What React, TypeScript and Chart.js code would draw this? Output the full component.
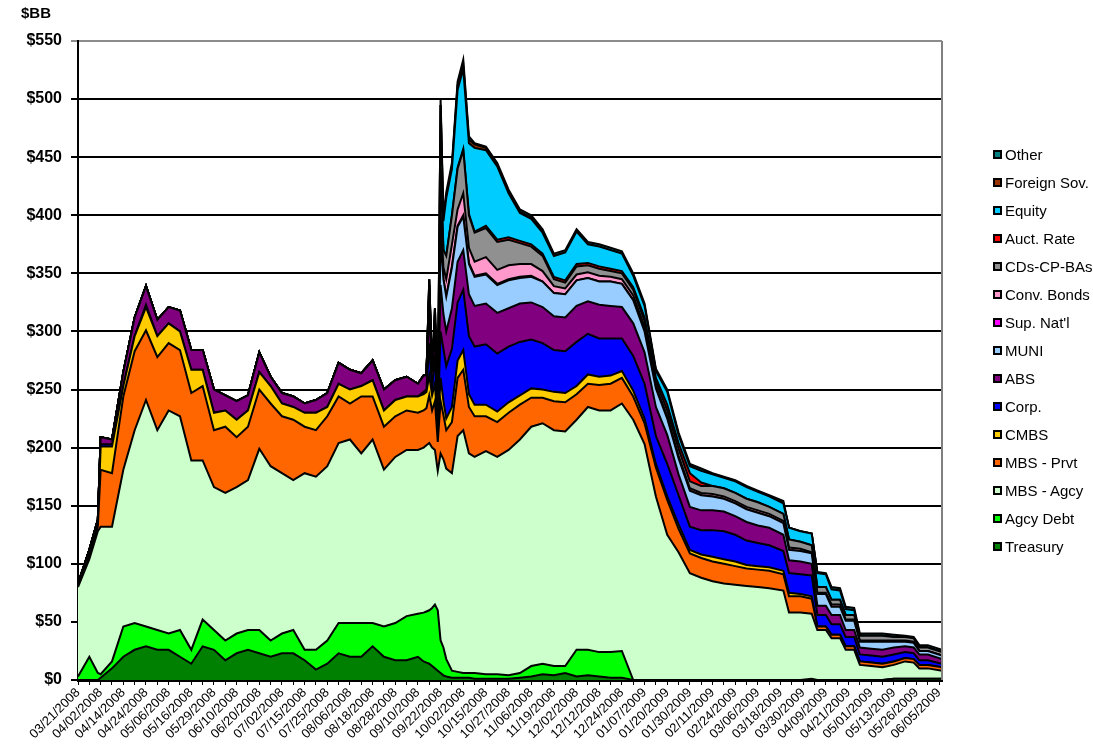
import React, { useEffect, useRef } from 'react';
import { Chart, registerables } from 'chart.js';

Chart.register(...registerables);

// Trading-day index (0 = 03/21/2008) of each sample
const dayIndex = [
  0, 4, 7, 8, 12, 16, 20, 24, 28, 32, 36, 40, 44, 48, 52, 56, 60, 64, 68, 72, 76, 80, 84, 88, 92, 96, 100, 104, 108, 112, 116, 120,
  122, 123, 124, 125, 126, 127, 128, 129, 130, 132, 134, 136, 138, 140,
  144, 148, 152, 156, 160, 164, 168, 172, 176, 180, 184, 188, 192, 196, 200, 204, 208, 212, 216, 220, 224, 228, 232, 236, 240, 244,
  249, 251, 255, 259, 261, 264, 266, 269, 271, 274, 276, 280, 284, 288, 292, 295, 297, 300, 305,
];

const dateLabels = [
  '03/21/2008', '04/02/2008', '04/14/2008', '04/24/2008', '05/06/2008', '05/16/2008', '05/29/2008', '06/10/2008',
  '06/20/2008', '07/02/2008', '07/15/2008', '07/25/2008', '08/06/2008', '08/18/2008', '08/28/2008', '09/10/2008',
  '09/22/2008', '10/02/2008', '10/15/2008', '10/27/2008', '11/06/2008', '11/19/2008', '12/02/2008', '12/12/2008',
  '12/24/2008', '01/07/2009', '01/20/2009', '01/30/2009', '02/11/2009', '02/24/2009', '03/06/2009', '03/18/2009',
  '03/30/2009', '04/09/2009', '04/21/2009', '05/01/2009', '05/13/2009', '05/26/2009', '06/05/2009',
];

const yTicks = [0, 50, 100, 150, 200, 250, 300, 350, 400, 450, 500, 550];

// $BB values per sample (bottom of stack first)
const treasury = [
  0, 0, 0, 2, 10, 20, 26, 29, 26, 26, 20, 14, 29, 26, 17, 23, 26, 23, 20, 23, 23, 17, 9, 14, 23, 20, 20, 29, 20, 17, 17, 20,
  16, 15, 14, 12, 10, 8, 6, 4, 3, 2, 2, 2, 2, 1,
  1, 1, 1, 2, 3, 5, 4, 6, 3, 4, 3, 2, 2, 0, 0, 0, 0, 0, 0, 0, 0, 0, 0, 0, 0, 0,
  0, 0, 0, 0, 0, 0, 0, 0, 0, 0, 0, 0, 0, 1, 1, 1, 1, 1, 1,
];
const agcyDebt = [
  3, 20, 6, 3, 6, 26, 23, 17, 17, 14, 23, 12, 23, 17, 17, 17, 17, 20, 14, 17, 20, 9, 17, 20, 26, 29, 29, 20, 26, 32, 38, 37,
  42, 44, 46, 50, 55, 52, 28, 24, 15, 6, 5, 4, 4, 5,
  4, 4, 3, 4, 9, 9, 8, 6, 23, 22, 21, 22, 23, 0, 0, 0, 0, 0, 0, 0, 0, 0, 0, 0, 0, 0,
  0, 0, 0, 1, 0, 0, 0, 0, 0, 0, 0, 0, 0, 0, 0, 0, 0, 0, 0,
];
const mbsAgcy = [
  77, 84, 122, 127, 116, 135, 166, 195, 172, 192, 184, 163, 137, 123, 127, 126, 129, 156, 150, 138, 129, 152, 149, 150, 155, 158, 146, 158, 135, 143, 143, 141,
  142, 143, 144, 138, 133, 120, 161, 162, 164, 170, 203, 209, 189, 186,
  192, 187, 194, 201, 206, 207, 203, 202, 198, 209, 208, 208, 213, 224, 203, 158, 125, 110, 92, 88, 85, 83, 82, 81, 80, 79,
  77, 58, 58, 56, 43, 43, 36, 36, 26, 26, 13, 12, 11, 12, 15, 14, 9, 9, 7,
];
const mbsPrvt = [
  1, 2, 4, 49, 46, 63, 68, 60, 63, 58, 57, 58, 64, 49, 57, 43, 46, 51, 54, 49, 52, 40, 40, 43, 40, 31, 49, 37, 37, 35, 34, 32,
  32, 32, 41, 32, 42, 25, 45, 38, 33, 44, 50, 52, 40, 35,
  30, 30, 32, 30, 25, 22, 25, 25, 22, 20, 22, 23, 22, 20, 18, 25, 30, 20, 17, 17, 17, 17, 16, 15, 15, 15,
  14, 14, 14, 13, 3, 3, 3, 3, 3, 3, 3, 3, 3, 3, 3, 3, 3, 3, 3,
];
const cmbs = [
  0, 2, 2, 20, 23, 9, 13, 20, 18, 17, 16, 20, 14, 15, 14, 15, 14, 15, 15, 11, 11, 12, 15, 8, 11, 12, 9, 14, 14, 14, 12, 14,
  14, 14, 17, 13, 15, 10, 20, 12, 10, 13, 15, 17, 11, 10,
  10, 9, 9, 8, 8, 7, 8, 8, 7, 8, 7, 7, 6, 5, 4, 3, 3, 4, 3, 3, 4, 4, 4, 3, 3, 3,
  3, 3, 2, 2, 0, 0, 0, 0, 0, 0, 0, 0, 0, 0, 0, 0, 0, 0, 0,
];
const corp = [
  0, 0, 0, 2, 2, 0, 0, 2, 0, 0, 0, 0, 0, 0, 0, 0, 0, 0, 0, 0, 0, 0, 0, 0, 0, 0, 0, 0, 0, 0, 0, 0,
  2, 2, 28, 5, 25, 7, 40, 45, 45, 50, 50, 52, 50, 50,
  52, 50, 48, 46, 42, 40, 36, 36, 38, 35, 33, 32, 28, 30, 30, 24, 28, 25, 20, 21, 23, 24, 23, 21, 20, 19,
  17, 17, 17, 18, 10, 10, 9, 9, 8, 8, 6, 6, 6, 6, 5, 5, 4, 4, 3,
];
const abs = [
  2, 4, 4, 6, 4, 12, 16, 16, 14, 14, 18, 17, 17, 20, 13, 16, 13, 17, 8, 9, 9, 8, 11, 12, 18, 17, 11, 17, 18, 17, 17, 11,
  14, 12, 30, 15, 20, 10, 40, 30, 30, 35, 35, 34, 36, 35,
  35, 35, 33, 33, 32, 31, 29, 29, 31, 28, 29, 28, 27, 28, 27, 25, 25, 18, 17, 17, 17, 17, 16, 16, 15, 15,
  14, 11, 11, 10, 8, 8, 8, 8, 6, 6, 6, 6, 6, 6, 5, 5, 5, 5, 4,
];
const muni = [
  0, 0, 0, 0, 0, 0, 0, 0, 0, 0, 0, 0, 0, 0, 0, 0, 0, 0, 0, 0, 0, 0, 0, 0, 0, 0, 0, 0, 0, 0, 0, 0,
  0, 0, 15, 0, 10, 0, 40, 30, 30, 35, 30, 29, 26, 25,
  25, 24, 24, 22, 22, 22, 20, 20, 22, 20, 20, 21, 20, 20, 18, 16, 14, 14, 14, 13, 12, 11, 11, 11, 11, 10,
  10, 9, 9, 9, 10, 10, 7, 7, 8, 8, 5, 6, 7, 5, 4, 4, 3, 3, 3,
];
const supNatl = [
  0, 0, 0, 0, 0, 0, 0, 0, 0, 0, 0, 0, 0, 0, 0, 0, 0, 0, 0, 0, 0, 0, 0, 0, 0, 0, 0, 0, 0, 0, 0, 0,
  0, 0, 0, 0, 0, 0, 0, 0, 0, 1, 1, 1, 1, 1,
  1, 1, 1, 1, 1, 0, 0, 0, 0, 0, 0, 0, 0, 0, 0, 0, 0, 0, 0, 0, 0, 0, 0, 0, 0, 0,
  0, 0, 0, 0, 0, 0, 0, 0, 0, 0, 0, 0, 0, 0, 0, 0, 0, 0, 0,
];
const convBonds = [
  0, 0, 0, 0, 0, 0, 0, 0, 0, 0, 0, 0, 0, 0, 0, 0, 0, 0, 0, 0, 0, 0, 0, 0, 0, 0, 0, 0, 0, 0, 0, 0,
  0, 0, 0, 0, 0, 0, 20, 10, 15, 19, 14, 19, 13, 12,
  14, 12, 12, 11, 10, 9, 6, 5, 5, 5, 5, 4, 4, 4, 4, 2, 2, 2, 2, 2, 2, 2, 2, 2, 2, 2,
  2, 2, 2, 1, 1, 1, 2, 2, 1, 1, 1, 1, 1, 1, 1, 1, 0, 0, 0,
];
const cdsCpBas = [
  0, 0, 0, 0, 0, 0, 0, 0, 0, 0, 0, 0, 0, 0, 0, 0, 0, 0, 0, 0, 0, 0, 0, 0, 0, 0, 0, 0, 0, 0, 0, 0,
  0, 0, 5, 0, 0, 0, 40, 15, 20, 25, 35, 37, 28, 25,
  25, 24, 22, 18, 15, 13, 6, 5, 7, 6, 6, 5, 5, 5, 5, 4, 5, 6, 6, 6, 7, 7, 7, 7, 7, 6,
  6, 7, 6, 6, 5, 5, 4, 4, 4, 4, 4, 4, 4, 3, 3, 3, 3, 3, 3,
];
const auctRate = [
  0, 0, 0, 0, 0, 0, 0, 0, 0, 0, 0, 0, 0, 0, 0, 0, 0, 0, 0, 0, 0, 0, 0, 0, 0, 0, 0, 0, 0, 0, 0, 0,
  0, 0, 0, 0, 0, 0, 0, 0, 0, 0, 1, 1, 1, 1,
  2, 2, 2, 2, 2, 2, 2, 2, 2, 2, 2, 2, 2, 2, 3, 3, 5, 5, 7, 3, 0, 0, 0, 0, 0, 0,
  0, 0, 0, 0, 0, 0, 0, 0, 0, 0, 0, 0, 0, 0, 0, 0, 0, 0, 0,
];
const equity = [
  0, 0, 0, 0, 0, 0, 0, 0, 0, 0, 0, 0, 0, 0, 0, 0, 0, 0, 0, 0, 0, 0, 0, 0, 0, 0, 0, 0, 0, 0, 0, 0,
  0, 0, 5, 0, 10, 3, 55, 25, 50, 40, 67, 69, 61, 72,
  65, 63, 38, 24, 22, 18, 18, 24, 28, 16, 17, 16, 15, 10, 10, 6, 11, 7, 6, 10, 10, 9, 10, 10, 9, 9,
  9, 10, 9, 10, 12, 11, 9, 8, 5, 4, 0, 0, 0, 0, 0, 0, 0, 0, 0,
];
const foreignSov = [
  0, 0, 0, 0, 0, 0, 0, 0, 0, 0, 0, 0, 0, 0, 0, 0, 0, 0, 0, 0, 0, 0, 0, 0, 0, 0, 0, 0, 0, 0, 0, 0,
  0, 0, 0, 0, 0, 0, 0, 0, 0, 2, 4, 4, 3, 3,
  2, 1, 1, 1, 1, 1, 0, 0, 0, 0, 0, 0, 0, 0, 0, 0, 0, 0, 0, 0, 0, 0, 0, 0, 0, 0,
  0, 0, 0, 0, 0, 0, 0, 0, 0, 0, 0, 0, 0, 0, 0, 0, 0, 0, 0,
];
const other = [
  0, 0, 0, 0, 0, 0, 0, 0, 0, 0, 0, 0, 0, 0, 0, 0, 0, 0, 0, 0, 0, 0, 0, 0, 0, 0, 0, 0, 0, 0, 0, 0,
  0, 0, 0, 0, 0, 0, 5, 5, 5, 3, 3, 4, 3, 1,
  1, 2, 2, 2, 2, 2, 2, 2, 2, 2, 2, 2, 2, 2, 2, 2, 2, 2, 2, 2, 1, 1, 1, 1, 1, 1,
  2, 0, 0, 0, 1, 1, 2, 2, 2, 2, 2, 2, 2, 2, 1, 1, 2, 2, 2,
];

const seriesNames = [
  'Treasury', 'Agcy Debt', 'MBS - Agcy', 'MBS - Prvt', 'CMBS', 'Corp.', 'ABS', 'MUNI',
  "Sup. Nat'l", 'Conv. Bonds', 'CDs-CP-BAs', 'Auct. Rate', 'Equity', 'Foreign Sov.', 'Other',
];
const seriesColors = [
  '#008000', '#00FF00', '#CCFFCC', '#FF6600', '#FFCC00', '#0000FF', '#800080', '#99CCFF',
  '#FF00FF', '#FF99CC', '#909090', '#FF0000', '#00CCFF', '#993300', '#008080',
];
const seriesValues = [
  treasury, agcyDebt, mbsAgcy, mbsPrvt, cmbs, corp, abs, muni,
  supNatl, convBonds, cdsCpBas, auctRate, equity, foreignSov, other,
];

const FONT = "'Liberation Sans', Arial, Helvetica, sans-serif";

export default function App() {
  const canvasRef = useRef<HTMLCanvasElement | null>(null);

  useEffect(() => {
    const canvas = canvasRef.current;
    if (!canvas) return;

    const datasets = seriesValues.map((vals, s) => ({
      label: seriesNames[s],
      data: dayIndex.map((d, k) => ({ x: d, y: vals[k] })),
      backgroundColor: seriesColors[s],
      borderColor: '#000000',
      borderWidth: 2,
      pointRadius: 0,
      tension: 0,
      fill: s === 0 ? 'origin' : '-1',
    }));

    const tickVals: number[] = [];
    for (let v = 0; v <= 304; v += 4) tickVals.push(v);

    const frame = {
      id: 'frame',
      afterDraw(chart: any) {
        const { ctx, chartArea } = chart;
        ctx.save();
        ctx.strokeStyle = '#808080';
        ctx.lineWidth = 2;
        ctx.beginPath();
        ctx.moveTo(chartArea.right, chartArea.top);
        ctx.lineTo(chartArea.right, chartArea.bottom);
        ctx.stroke();
        ctx.restore();
      },
    };

    const chart = new Chart(canvas, {
      type: 'line',
      data: { datasets } as any,
      options: {
        responsive: false,
        animation: false,
        layout: { padding: { top: 41, right: 151, left: 0, bottom: 0 } },
        plugins: { legend: { display: false }, tooltip: { enabled: false } },
        elements: { point: { radius: 0 }, line: { tension: 0 } },
        scales: {
          x: {
            type: 'linear',
            min: 0,
            max: 305,
            afterFit: (s: any) => { s.height = 76; },
            afterBuildTicks: (s: any) => { s.ticks = tickVals.map((v) => ({ value: v })); },
            ticks: {
              autoSkip: false,
              minRotation: 45,
              maxRotation: 45,
              padding: 0,
              color: '#000',
              font: { family: FONT, size: 13 },
              callback: (v: any) => (Number(v) % 8 === 0 ? dateLabels[Number(v) / 8] : ''),
            },
            grid: { drawOnChartArea: false, drawTicks: true, tickLength: 5, color: '#000', lineWidth: 1 },
            border: { color: '#000', width: 3 },
          },
          y: {
            stacked: true,
            min: 0,
            max: 550,
            afterFit: (s: any) => { s.width = 78; },
            afterBuildTicks: (s: any) => { s.ticks = yTicks.map((v) => ({ value: v })); },
            ticks: {
              color: '#000',
              padding: 9,
              font: { family: FONT, size: 16, weight: 'bold' },
              callback: (v: any) => '$' + v,
            },
            grid: {
              color: (c: any) => (c.tick && c.tick.value === 550 ? '#8c8c8c' : '#000'),
              lineWidth: 2,
              tickLength: 7,
            },
            border: { color: '#000', width: 2 },
          },
        },
      } as any,
      plugins: [frame],
    });

    return () => chart.destroy();
  }, []);

  const legendOrder = seriesNames.map((n, i) => i).reverse();

  return (
    <div style={{ position: 'fixed', left: 0, top: 0, width: 1093, height: 756, background: '#fff', overflow: 'hidden' }}>
      <canvas ref={canvasRef} width={1093} height={756} style={{ position: 'absolute', left: 0, top: 0 }} />
      <div style={{ position: 'absolute', left: 21, top: 4, fontFamily: FONT, fontSize: 15, fontWeight: 'bold', color: '#000' }}>$BB</div>
      {legendOrder.map((s, k) => (
        <div
          key={s}
          style={{
            position: 'absolute',
            left: 993,
            top: 154 + k * 28.07 - 10,
            height: 20,
            display: 'flex',
            alignItems: 'center',
            fontFamily: FONT,
            fontSize: 15,
            color: '#000',
            whiteSpace: 'nowrap',
          }}
        >
          <span style={{ display: 'inline-block', width: 9, height: 9, boxSizing: 'border-box', border: '2px solid #000', background: seriesColors[s], marginRight: 3 }} />
          <span>{seriesNames[s]}</span>
        </div>
      ))}
    </div>
  );
}
